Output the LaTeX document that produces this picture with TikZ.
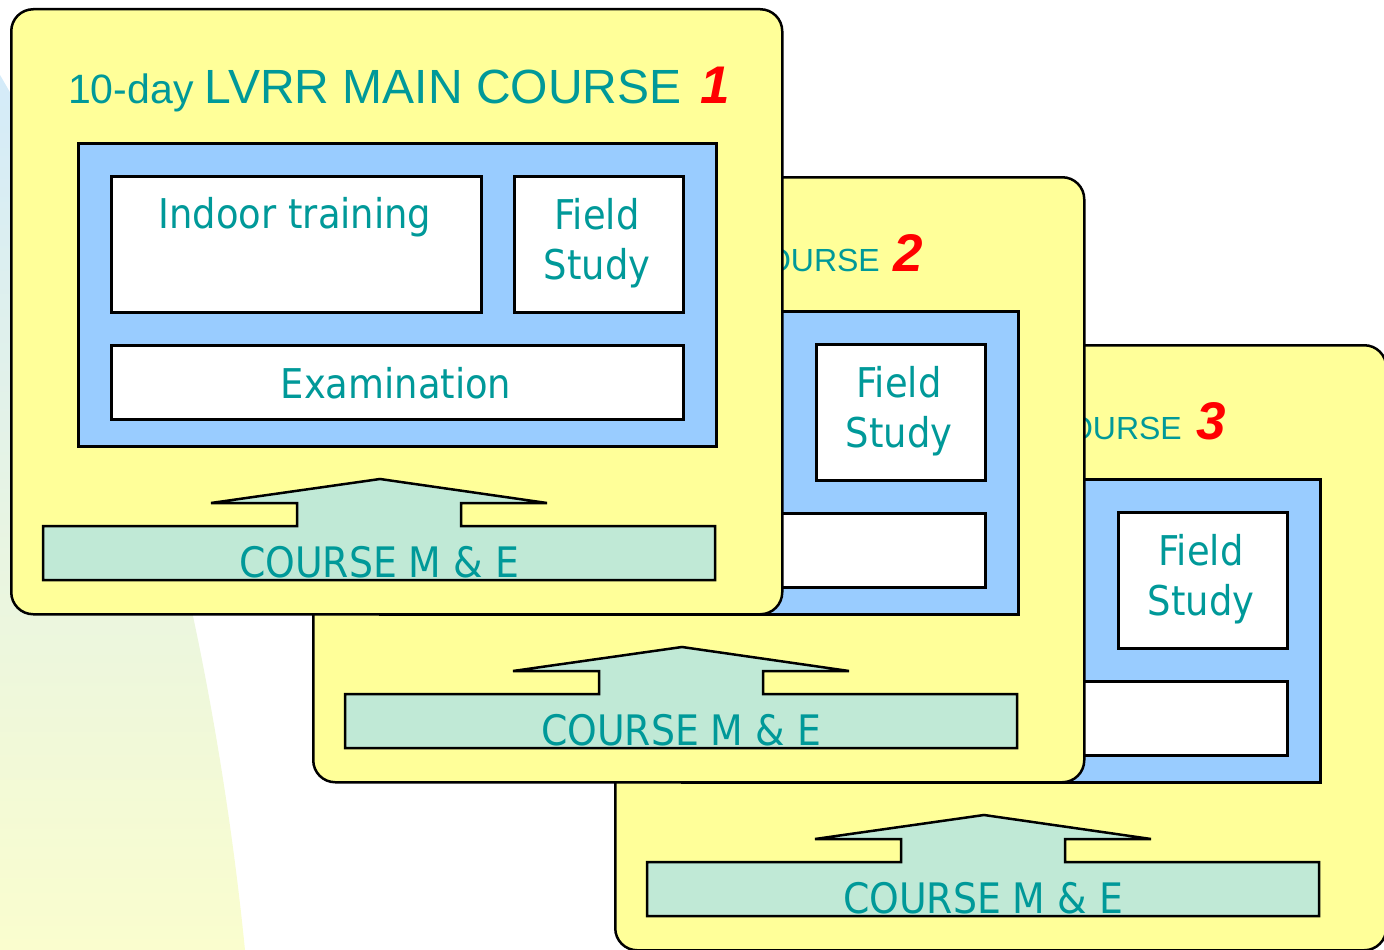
\documentclass[tikz,border=0pt]{standalone}
\usepackage{fontspec}
\setmainfont{DejaVu Sans}[FakeStretch=0.9]
\newfontfamily\numfont{Liberation Sans}
\newfontfamily\titlefont{Liberation Sans}
\definecolor{cardyellow}{RGB}{255,255,153}
\definecolor{innerblue}{RGB}{153,204,255}
\definecolor{mintfill}{RGB}{192,233,214}
\definecolor{tealtxt}{RGB}{0,153,153}
\definecolor{rednum}{RGB}{255,0,0}
\definecolor{bgblue}{RGB}{212,235,249}
\definecolor{bgmid}{RGB}{236,246,222}
\definecolor{bgyellow}{RGB}{250,253,206}
\tikzset{
  card/.style={draw=black, line width=2.5pt, fill=cardyellow, rounded corners=22pt, anchor=north west, inner sep=0},
  blueframe/.style={draw=black, line width=2.5pt, fill=innerblue, anchor=north west, inner sep=0},
  whitebox/.style={draw=black, line width=2.5pt, fill=white, anchor=north west, inner sep=0},
  lbl/.style={text=tealtxt, inner sep=0, font=\fontsize{41}{49}\selectfont},
  melbl/.style={text=tealtxt, inner sep=0, font=\fontsize{42}{50}\selectfont},
  smalltitle/.style={text=tealtxt, inner sep=0, font=\titlefont\fontsize{32}{38}\selectfont},
  numlbl/.style={text=rednum, inner sep=0, font=\numfont\bfseries\itshape\fontsize{53}{60}\selectfont},
  mebar/.style={draw=black, line width=2.5pt, fill=mintfill, line join=miter},
}
\newcommand\coursecard[3]{%
\begin{scope}[shift={(#2,#3)}]
  \node[card, minimum width=771pt, minimum height=605pt] (#1card) at (10,8) {};
  \node[blueframe, minimum width=638pt, minimum height=303pt] (#1frame) at (77,142) {};
  \node[whitebox, minimum width=169pt, minimum height=136pt] (#1field) at (513,175) {};
  \node[whitebox, minimum width=572pt, minimum height=74pt] (#1exam) at (110,344) {};
  \node[lbl, anchor=base] (#1fieldtxt) at (597,229) {Field};
  \node[lbl, anchor=base] (#1studytxt) at (597,279) {Study};
  \draw[mebar] (43,526) -- (297,526) -- (297,503) -- (211,503) -- (380,479) -- (547,503)
     -- (461,503) -- (461,526) -- (715,526) -- (715,580) -- (43,580) -- cycle;
  \node[melbl, anchor=base] (#1metxt) at (379,577) {COURSE M \& E};
\end{scope}}
\begin{document}
\begin{tikzpicture}[x=1pt,y=-1pt]
\useasboundingbox (0,0) rectangle (1384,950);
\shade[top color=bgblue, middle color=bgmid, bottom color=bgyellow]
  (0,75) .. controls (150,330) and (220,700) .. (245,950) -- (0,950) -- cycle;
% card 3
\coursecard{c3}{604}{336}
\node[smalltitle, anchor=base east] (c3title) at (1182,439) {COURSE};
\node[numlbl, anchor=base west] (c3num) at (1196,439) {3};
% card 2
\coursecard{c2}{302}{168}
\node[smalltitle, anchor=base east] (c2title) at (880,271) {COURSE};
\node[numlbl, anchor=base west] (c2num) at (893,271) {2};
% card 1
\coursecard{c1}{0}{0}
\node[whitebox, minimum width=370pt, minimum height=136pt] (c1indoor) at (110,175) {};
\node[lbl, anchor=base] (c1indoortxt) at (295,228) {Indoor training};
\node[lbl, anchor=base] (c1examtxt) at (396,398) {Examination};
\node[text=tealtxt, inner sep=0, anchor=base west, font=\titlefont] (c1title) at (68,103)
  {\fontsize{41}{49}\selectfont 10-day \fontsize{48}{56}\selectfont LVRR MAIN COURSE};
\node[numlbl, anchor=base west] (c1num) at (700,103) {1};
\end{tikzpicture}
\end{document}
